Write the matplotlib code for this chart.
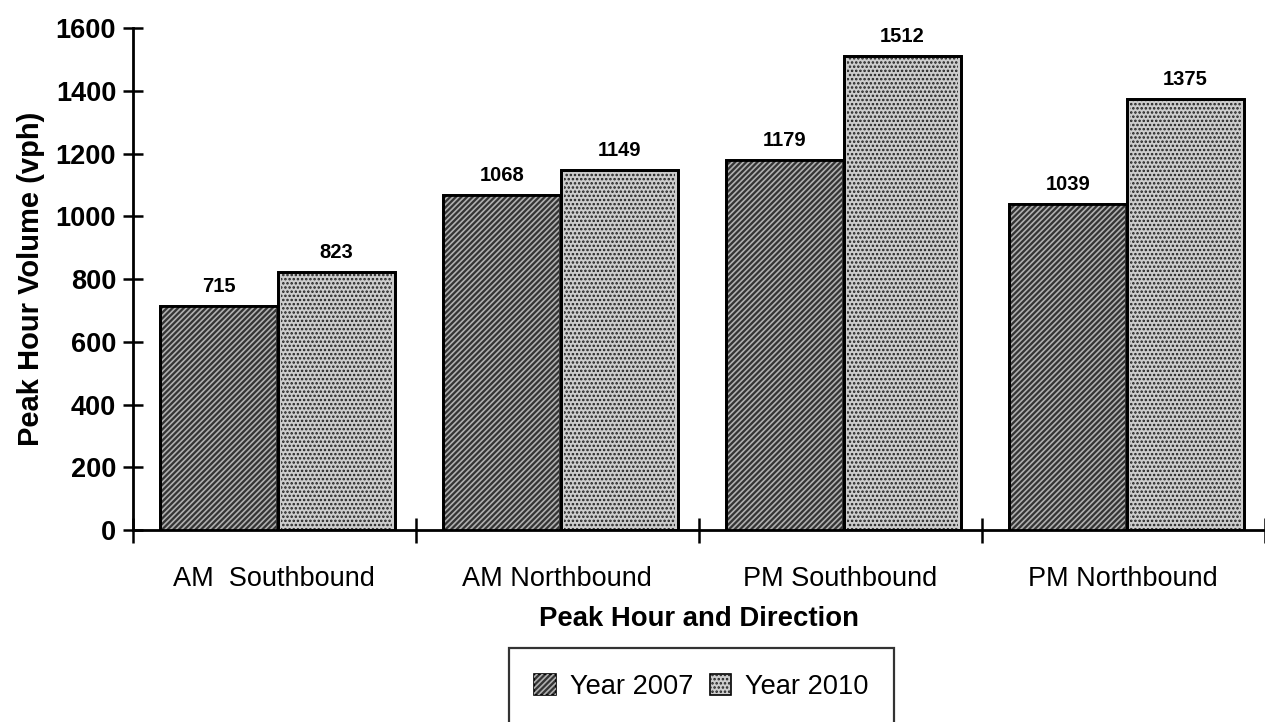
import matplotlib
matplotlib.use("Agg")
import matplotlib.pyplot as plt
from matplotlib.patches import Patch
from matplotlib.legend_handler import HandlerPatch
import numpy as np

categories = ["AM  Southbound", "AM Northbound", "PM Southbound", "PM Northbound"]
year2007 = [715, 1068, 1179, 1039]
year2010 = [823, 1149, 1512, 1375]
series_names = ["Year 2007", "Year 2010"]
yticks = [0, 200, 400, 600, 800, 1000, 1200, 1400, 1600]

plt.rcParams['font.family'] = ['Liberation Sans', 'DejaVu Sans']
plt.rcParams['hatch.linewidth'] = 1.2

fig = plt.figure(figsize=(12.65, 7.22), dpi=100)
ax = fig.add_axes([0.105, 0.266, 0.8949, 0.695])

x = np.arange(len(categories))
w = 0.415
off = 0.012
x07 = x - w / 2 + off
x10 = x + w / 2 + off

c07_face, c07_hatch = '#343434', '#b0b0b0'
c10_face, c10_hatch = '#cdcdcd', '#202020'

# base bars
ax.bar(x07, year2007, w, color=c07_face, edgecolor='black', linewidth=2, zorder=2)
ax.bar(x10, year2010, w, color=c10_face, edgecolor='black', linewidth=2, zorder=2)
# hatch overlays
ax.bar(x07, year2007, w * 0.97, color='none', edgecolor=c07_hatch, hatch='//////', linewidth=0, zorder=3)
ax.bar(x10, year2010, w * 0.95, color='none', edgecolor=c10_hatch, hatch='....', linewidth=0, zorder=3)
# re-draw outlines on top
ax.bar(x07, year2007, w, color='none', edgecolor='black', linewidth=2, zorder=4)
ax.bar(x10, year2010, w, color='none', edgecolor='black', linewidth=2, zorder=4)

for xs, vals in ((x07, year2007), (x10, year2010)):
    for xi, v in zip(xs, vals):
        ax.annotate(str(v), (xi, v), xytext=(0, 7), textcoords='offset points',
                    ha='center', va='bottom', fontsize=14.5, fontweight='bold')

ax.set_xlim(-0.5, 3.479)
ax.set_ylim(0, 1600)
ax.set_yticks(yticks)
ax.set_yticklabels([str(t) for t in yticks])
ax.tick_params(axis='y', direction='inout', length=14, width=1.8, labelsize=19.5, pad=5)
for lab in ax.get_yticklabels():
    lab.set_fontweight('bold')

ax.set_xticks(np.arange(len(categories) + 1) - 0.5)
ax.set_xticklabels([])
ax.tick_params(axis='x', which='major', direction='inout', length=18, width=1.8)
ax.set_xticks(x, minor=True)
ax.set_xticklabels(categories, minor=True)
ax.tick_params(axis='x', which='minor', length=0, labelsize=19.5, pad=26)

for s in ['top', 'right']:
    ax.spines[s].set_visible(False)
for s in ['left', 'bottom']:
    ax.spines[s].set_linewidth(2)

ax.set_ylabel("Peak Hour Volume (vph)", fontsize=21, fontweight='bold', labelpad=8)
ax.set_xlabel("Peak Hour and Direction", fontsize=19.8, fontweight='bold', labelpad=10)


class HatchHandler(HandlerPatch):
    def create_artists(self, legend, orig_handle, xdescent, ydescent, width, height, fontsize, trans):
        base = plt.Rectangle((-xdescent, -ydescent), width, height, facecolor=orig_handle.get_facecolor(),
                             edgecolor='black', linewidth=1.2, transform=trans)
        hat = plt.Rectangle((-xdescent, -ydescent), width, height, facecolor='none',
                            edgecolor=orig_handle.get_edgecolor(), hatch=orig_handle.get_hatch(),
                            linewidth=0, transform=trans)
        return [base, hat]


handles = [Patch(facecolor=c07_face, edgecolor=c07_hatch, hatch='//////', linewidth=0),
           Patch(facecolor=c10_face, edgecolor=c10_hatch, hatch='....', linewidth=0)]
leg = fig.legend(handles, series_names, loc='upper center', bbox_to_anchor=(0.5545, 1 - 648 / 722),
                 fontsize=19.6, frameon=True, fancybox=False, handlelength=0.8, handleheight=0.8,
                 handletextpad=0.5, columnspacing=0.6, ncol=2, borderpad=0.95, borderaxespad=0,
                 handler_map={Patch: HatchHandler()})
leg.get_frame().set_edgecolor('black')
leg.get_frame().set_linewidth(1.6)

fig.savefig("out.png", dpi=100)
